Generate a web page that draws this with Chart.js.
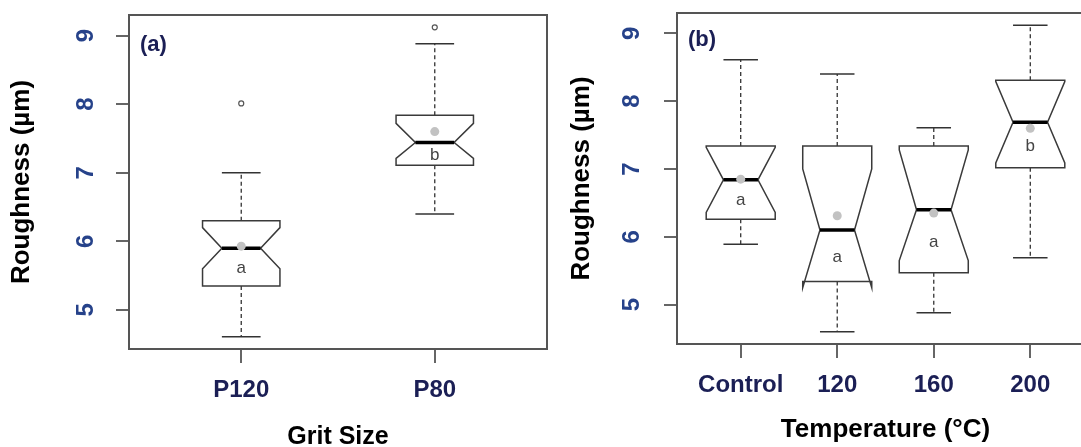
<!DOCTYPE html>
<html>
<head>
<meta charset="utf-8">
<script src="https://cdn.jsdelivr.net/npm/chart.js@4.4.1/dist/chart.umd.min.js"></script>
<style>
  html, body { margin: 0; padding: 0; background: #fff; }
  body { width: 1081px; height: 447px; overflow: hidden; position: relative; }
  canvas { position: absolute; top: 0; }
  #chartA { left: 0; }
  #chartB { left: 560px; }
</style>
</head>
<body>
<canvas id="chartA" width="560" height="450"></canvas>
<canvas id="chartB" width="545" height="447"></canvas>
<script>
// ================= DATA =================

const yTicks = [5, 6, 7, 8, 9];

// (a) grit size
const gritLabels   = ['P120', 'P80'];
const gritMin      = [4.61, 6.40];
const gritQ1       = [5.35, 7.11];
const gritMedian   = [5.90, 7.44];
const gritQ3       = [6.30, 7.84];
const gritMax      = [7.00, 8.88];
const gritNotchLo  = [5.60, 7.21];
const gritNotchHi  = [6.20, 7.72];
const gritMean     = [5.93, 7.60];
const gritOutliers = [[8.01], [9.12]];
const gritLetters  = ['a', 'b'];

// (b) temperature
const tempLabels   = ['Control', '120', '160', '200'];
const tempMin      = [5.89, 4.60, 4.88, 5.69];
const tempQ1       = [6.26, 5.34, 5.47, 7.02];
const tempMedian   = [6.84, 6.10, 6.40, 7.69];
const tempQ3       = [7.34, 7.34, 7.34, 8.31];
const tempMax      = [8.61, 8.40, 7.61, 9.12];
const tempNotchLo  = [6.36, 5.25, 5.65, 7.09];
const tempNotchHi  = [7.32, 7.00, 7.28, 8.29];
const tempMean     = [6.85, 6.31, 6.35, 7.60];
const tempOutliers = [[], [], [], []];
const tempLetters  = ['a', 'a', 'a', 'b'];

// ================= DRAWING =================

const FONT = "'Liberation Sans', Arial, sans-serif";
const NAVY = '#1b1f55';
const TICKBLUE = '#26428a';

function boxPlugin(p){
    return {
        id: 'notchBox',
        beforeDatasetsDraw(chart){
            const {ctx, chartArea: a, scales: {x, y}} = chart;
            ctx.save();

            // plot frame
            ctx.strokeStyle = '#555';
            ctx.lineWidth = 2;
            ctx.strokeRect(a.left, a.top, a.right - a.left, a.bottom - a.top);

            p.labels.forEach((_, i) => {
                const cx = x.getPixelForValue(i + 1);
                const hw = x.getPixelForValue(1 + p.boxWidth / 2) - x.getPixelForValue(1);
                const xl = cx - hw, xr = cx + hw, q = hw / 2;
                const yMin = y.getPixelForValue(p.min[i]);
                const yQ1 = y.getPixelForValue(p.q1[i]);
                const yMed = y.getPixelForValue(p.median[i]);
                const yQ3 = y.getPixelForValue(p.q3[i]);
                const yMax = y.getPixelForValue(p.max[i]);
                const yLo = y.getPixelForValue(p.notchLo[i]);
                const yHi = y.getPixelForValue(p.notchHi[i]);

                // whiskers
                ctx.strokeStyle = '#333';
                ctx.lineWidth = 1.3;
                ctx.setLineDash([4, 3]);
                ctx.beginPath();
                ctx.moveTo(cx, yQ3); ctx.lineTo(cx, yMax);
                ctx.moveTo(cx, yQ1); ctx.lineTo(cx, yMin);
                ctx.stroke();
                ctx.setLineDash([]);
                ctx.lineWidth = 1.5;
                ctx.beginPath();
                ctx.moveTo(cx - q, yMax); ctx.lineTo(cx + q, yMax);
                ctx.moveTo(cx - q, yMin); ctx.lineTo(cx + q, yMin);
                ctx.stroke();

                // notched box
                ctx.beginPath();
                ctx.moveTo(xl, yQ1);
                ctx.lineTo(xl, yLo);
                ctx.lineTo(xl + q, yMed);
                ctx.lineTo(xl, yHi);
                ctx.lineTo(xl, yQ3);
                ctx.lineTo(xr, yQ3);
                ctx.lineTo(xr, yHi);
                ctx.lineTo(xr - q, yMed);
                ctx.lineTo(xr, yLo);
                ctx.lineTo(xr, yQ1);
                ctx.closePath();
                ctx.fillStyle = '#fff';
                ctx.fill();
                ctx.strokeStyle = '#3a3a3a';
                ctx.lineWidth = 1.5;
                ctx.stroke();

                // median
                ctx.strokeStyle = '#000';
                ctx.lineWidth = 3.5;
                ctx.beginPath();
                ctx.moveTo(xl + q, yMed); ctx.lineTo(xr - q, yMed);
                ctx.stroke();

                // group letter
                ctx.fillStyle = '#444';
                ctx.font = '17px ' + FONT;
                ctx.textAlign = 'center';
                ctx.textBaseline = 'middle';
                ctx.fillText(p.letters[i], cx, (yMed + yQ1) / 2 + 1);
            });

            // panel tag
            ctx.fillStyle = NAVY;
            ctx.font = 'bold 22px ' + FONT;
            ctx.textAlign = 'left';
            ctx.textBaseline = 'middle';
            ctx.fillText(p.tag, a.left + 11, a.top + p.tagDy);
            ctx.restore();
        }
    };
}

function makeChart(id, p){
    const n = p.labels.length;
    const meanPts = p.labels.map((_, i) => ({x: i + 1, y: p.mean[i]}));
    const outPts = p.outliers.flatMap((arr, i) => arr.map(v => ({x: i + 1, y: v})));

    return new Chart(document.getElementById(id), {
        type: 'scatter',
        data: {
            datasets: [{
                data: meanPts,
                pointRadius: 4.5,
                pointBackgroundColor: '#c2c2c2',
                pointBorderWidth: 0
            },{
                data: outPts,
                pointRadius: 2.5,
                pointBackgroundColor: '#fff',
                pointBorderColor: '#555',
                pointBorderWidth: 1.2
            }]
        },
        options: {
            responsive: false,
            animation: false,
            devicePixelRatio: 1,
            layout: {padding: {top: p.padTop, right: p.padRight, left: 0, bottom: 0}},
            plugins: {legend: {display: false}, tooltip: {enabled: false}},
            scales: {
                x: {
                    type: 'linear',
                    // R style: groups at 1..n, range 0.5..n+0.5 widened by 4%
                    min: 0.5 - 0.04 * n,
                    max: n + 0.5 + 0.04 * n,
                    afterBuildTicks: s => { s.ticks = p.labels.map((_, i) => ({value: i + 1})); },
                    afterFit: s => { s.height = p.xAxisH; s.paddingLeft = 0; s.paddingRight = 0; },
                    ticks: {
                        callback: (v, i) => p.labels[i],
                        minRotation: 0, maxRotation: 0,
                        padding: 15,
                        color: NAVY,
                        font: {family: FONT, size: 24, weight: 'bold', lineHeight: 1}
                    },
                    grid: {drawOnChartArea: false, drawTicks: true, tickLength: 14, color: '#666', lineWidth: 2},
                    border: {display: false},
                    title: {
                        display: true, text: p.xTitle, color: '#000',
                        font: {family: FONT, size: p.xTitleSize, weight: 'bold', lineHeight: 1},
                        padding: {top: 0, bottom: p.xTitlePad}
                    }
                },
                y: {
                    min: p.yMin, max: p.yMax,
                    afterBuildTicks: s => { s.ticks = yTicks.map(v => ({value: v})); },
                    afterFit: s => { s.width = p.yAxisW; s.paddingTop = 0; s.paddingBottom = 0; },
                    ticks: {
                        minRotation: 90, maxRotation: 90,
                        crossAlign: 'center',
                        padding: p.yTickPad,
                        color: TICKBLUE,
                        font: {family: FONT, size: 24, weight: 'bold', lineHeight: 1}
                    },
                    grid: {drawOnChartArea: false, drawTicks: true, tickLength: 13, color: '#666', lineWidth: 2},
                    border: {display: false},
                    title: {
                        display: true, text: 'Roughness (µm)', color: '#000',
                        font: {family: FONT, size: 26, weight: 'bold', lineHeight: 1},
                        padding: {top: 9, bottom: 0}
                    }
                }
            }
        },
        plugins: [boxPlugin(p)]
    });
}

document.addEventListener('DOMContentLoaded', () => {
    makeChart('chartA', {
        labels: gritLabels, min: gritMin, q1: gritQ1, median: gritMedian, q3: gritQ3, max: gritMax,
        notchLo: gritNotchLo, notchHi: gritNotchHi, mean: gritMean, outliers: gritOutliers, letters: gritLetters,
        tag: '(a)', tagDy: 30, boxWidth: 0.40,
        yMin: 4.43, yMax: 9.30,
        padTop: 15, padRight: 13, xAxisH: 101, yAxisW: 129, yTickPad: 23,
        xTitle: 'Grit Size', xTitleSize: 25, xTitlePad: 0
    });
    makeChart('chartB', {
        labels: tempLabels, min: tempMin, q1: tempQ1, median: tempMedian, q3: tempQ3, max: tempMax,
        notchLo: tempNotchLo, notchHi: tempNotchHi, mean: tempMean, outliers: tempOutliers, letters: tempLetters,
        tag: '(b)', tagDy: 27, boxWidth: 0.715,
        yMin: 4.42, yMax: 9.30,
        padTop: 13, padRight: 11, xAxisH: 103, yAxisW: 117, yTickPad: 25,
        xTitle: 'Temperature (°C)', xTitleSize: 26, xTitlePad: 4
    });
});
</script>
</body>
</html>
